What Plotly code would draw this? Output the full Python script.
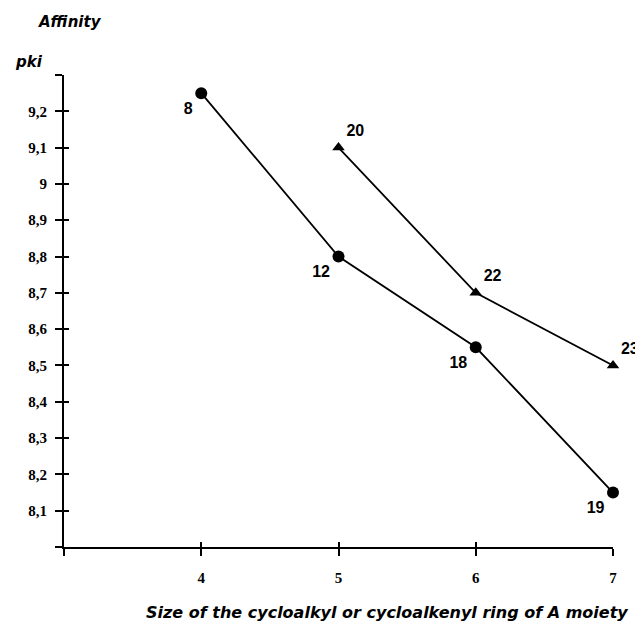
import plotly.graph_objects as go

# Data
ring_size_circles = [4, 5, 6, 7]
pki_circles = [9.25, 8.80, 8.55, 8.15]
labels_circles = ["8", "12", "18", "19"]

ring_size_triangles = [5, 6, 7]
pki_triangles = [9.10, 8.70, 8.50]
labels_triangles = ["20", "22", "23"]

x_tickvals = [3, 4, 5, 6, 7]
x_ticktext = ["", "4", "5", "6", "7"]
y_tickvals = [8.0, 8.1, 8.2, 8.3, 8.4, 8.5, 8.6, 8.7, 8.8, 8.9, 9.0, 9.1, 9.2, 9.3]
y_ticktext = ["", "8,1", "8,2", "8,3", "8,4", "8,5", "8,6", "8,7", "8,8", "8,9", "9", "9,1", "9,2", ""]

x_range = [3, 7]
y_range = [8.0, 9.3]

label_font = dict(family="Liberation Sans, Arial", size=16, color="black", weight="bold")

fig = go.Figure()
fig.add_trace(go.Scatter(
    x=ring_size_circles, y=pki_circles, mode="lines+markers+text",
    text=labels_circles, textposition="bottom left", textfont=label_font,
    line=dict(color="black", width=1.8),
    marker=dict(symbol="circle", size=12, color="black"),
    cliponaxis=False, showlegend=False, hoverinfo="skip"))
fig.add_trace(go.Scatter(
    x=ring_size_triangles, y=pki_triangles, mode="lines+markers+text",
    text=labels_triangles, textposition="top right", textfont=label_font,
    line=dict(color="black", width=1.8),
    marker=dict(symbol="triangle-up", size=11, color="black"),
    cliponaxis=False, showlegend=False, hoverinfo="skip"))
# invisible trace to activate overlay axes (inside half of crossing ticks)
fig.add_trace(go.Scatter(x=[], y=[], xaxis="x2", yaxis="y2", showlegend=False))

tick_font = dict(family="Liberation Serif, Times New Roman", size=15, color="black", weight="bold")
title_font = dict(family="DejaVu Sans", size=16, color="black")

fig.update_layout(
    width=635, height=618,
    margin=dict(l=56, r=30, t=67, b=79),
    paper_bgcolor="white", plot_bgcolor="white",
    xaxis=dict(range=x_range, tickvals=x_tickvals, ticktext=x_ticktext,
               showgrid=False, zeroline=False, showline=True, linecolor="black", linewidth=1.8,
               ticks="outside", ticklen=7, tickwidth=1.5, tickcolor="black",
               tickfont=tick_font, ticklabelstandoff=9),
    yaxis=dict(range=y_range, tickvals=y_tickvals, ticktext=y_ticktext,
               showgrid=False, zeroline=False, showline=True, linecolor="black", linewidth=1.8,
               ticks="outside", ticklen=7, tickwidth=1.5, tickcolor="black",
               tickfont=tick_font, ticklabelstandoff=5),
    xaxis2=dict(range=x_range, tickvals=x_tickvals, overlaying="x",
                showticklabels=False, showgrid=False, zeroline=False, showline=False,
                ticks="inside", ticklen=5, tickwidth=1.5, tickcolor="black"),
    yaxis2=dict(range=y_range, tickvals=y_tickvals, overlaying="y",
                showticklabels=False, showgrid=False, zeroline=False, showline=False,
                ticks="inside", ticklen=5, tickwidth=1.5, tickcolor="black"),
    annotations=[
        dict(text="<b><i>Affinity</i></b>", xref="paper", yref="paper",
             x=-0.051, y=1.112, xanchor="left", yanchor="middle", showarrow=False,
             font=dict(family="DejaVu Sans", size=15, color="black")),
        dict(text="<b><i>pki</i></b>", xref="paper", yref="paper",
             x=-0.093, y=1.0275, xanchor="left", yanchor="middle", showarrow=False,
             font=dict(family="DejaVu Sans", size=15, color="black")),
        dict(text="<b><i>Size of the cycloalkyl or cycloalkenyl ring of A moiety</i></b>",
             xref="paper", yref="paper", x=0.589, y=-0.163, xanchor="center", yanchor="bottom",
             showarrow=False, font=title_font),
    ],
)

fig.write_html("out.html")
